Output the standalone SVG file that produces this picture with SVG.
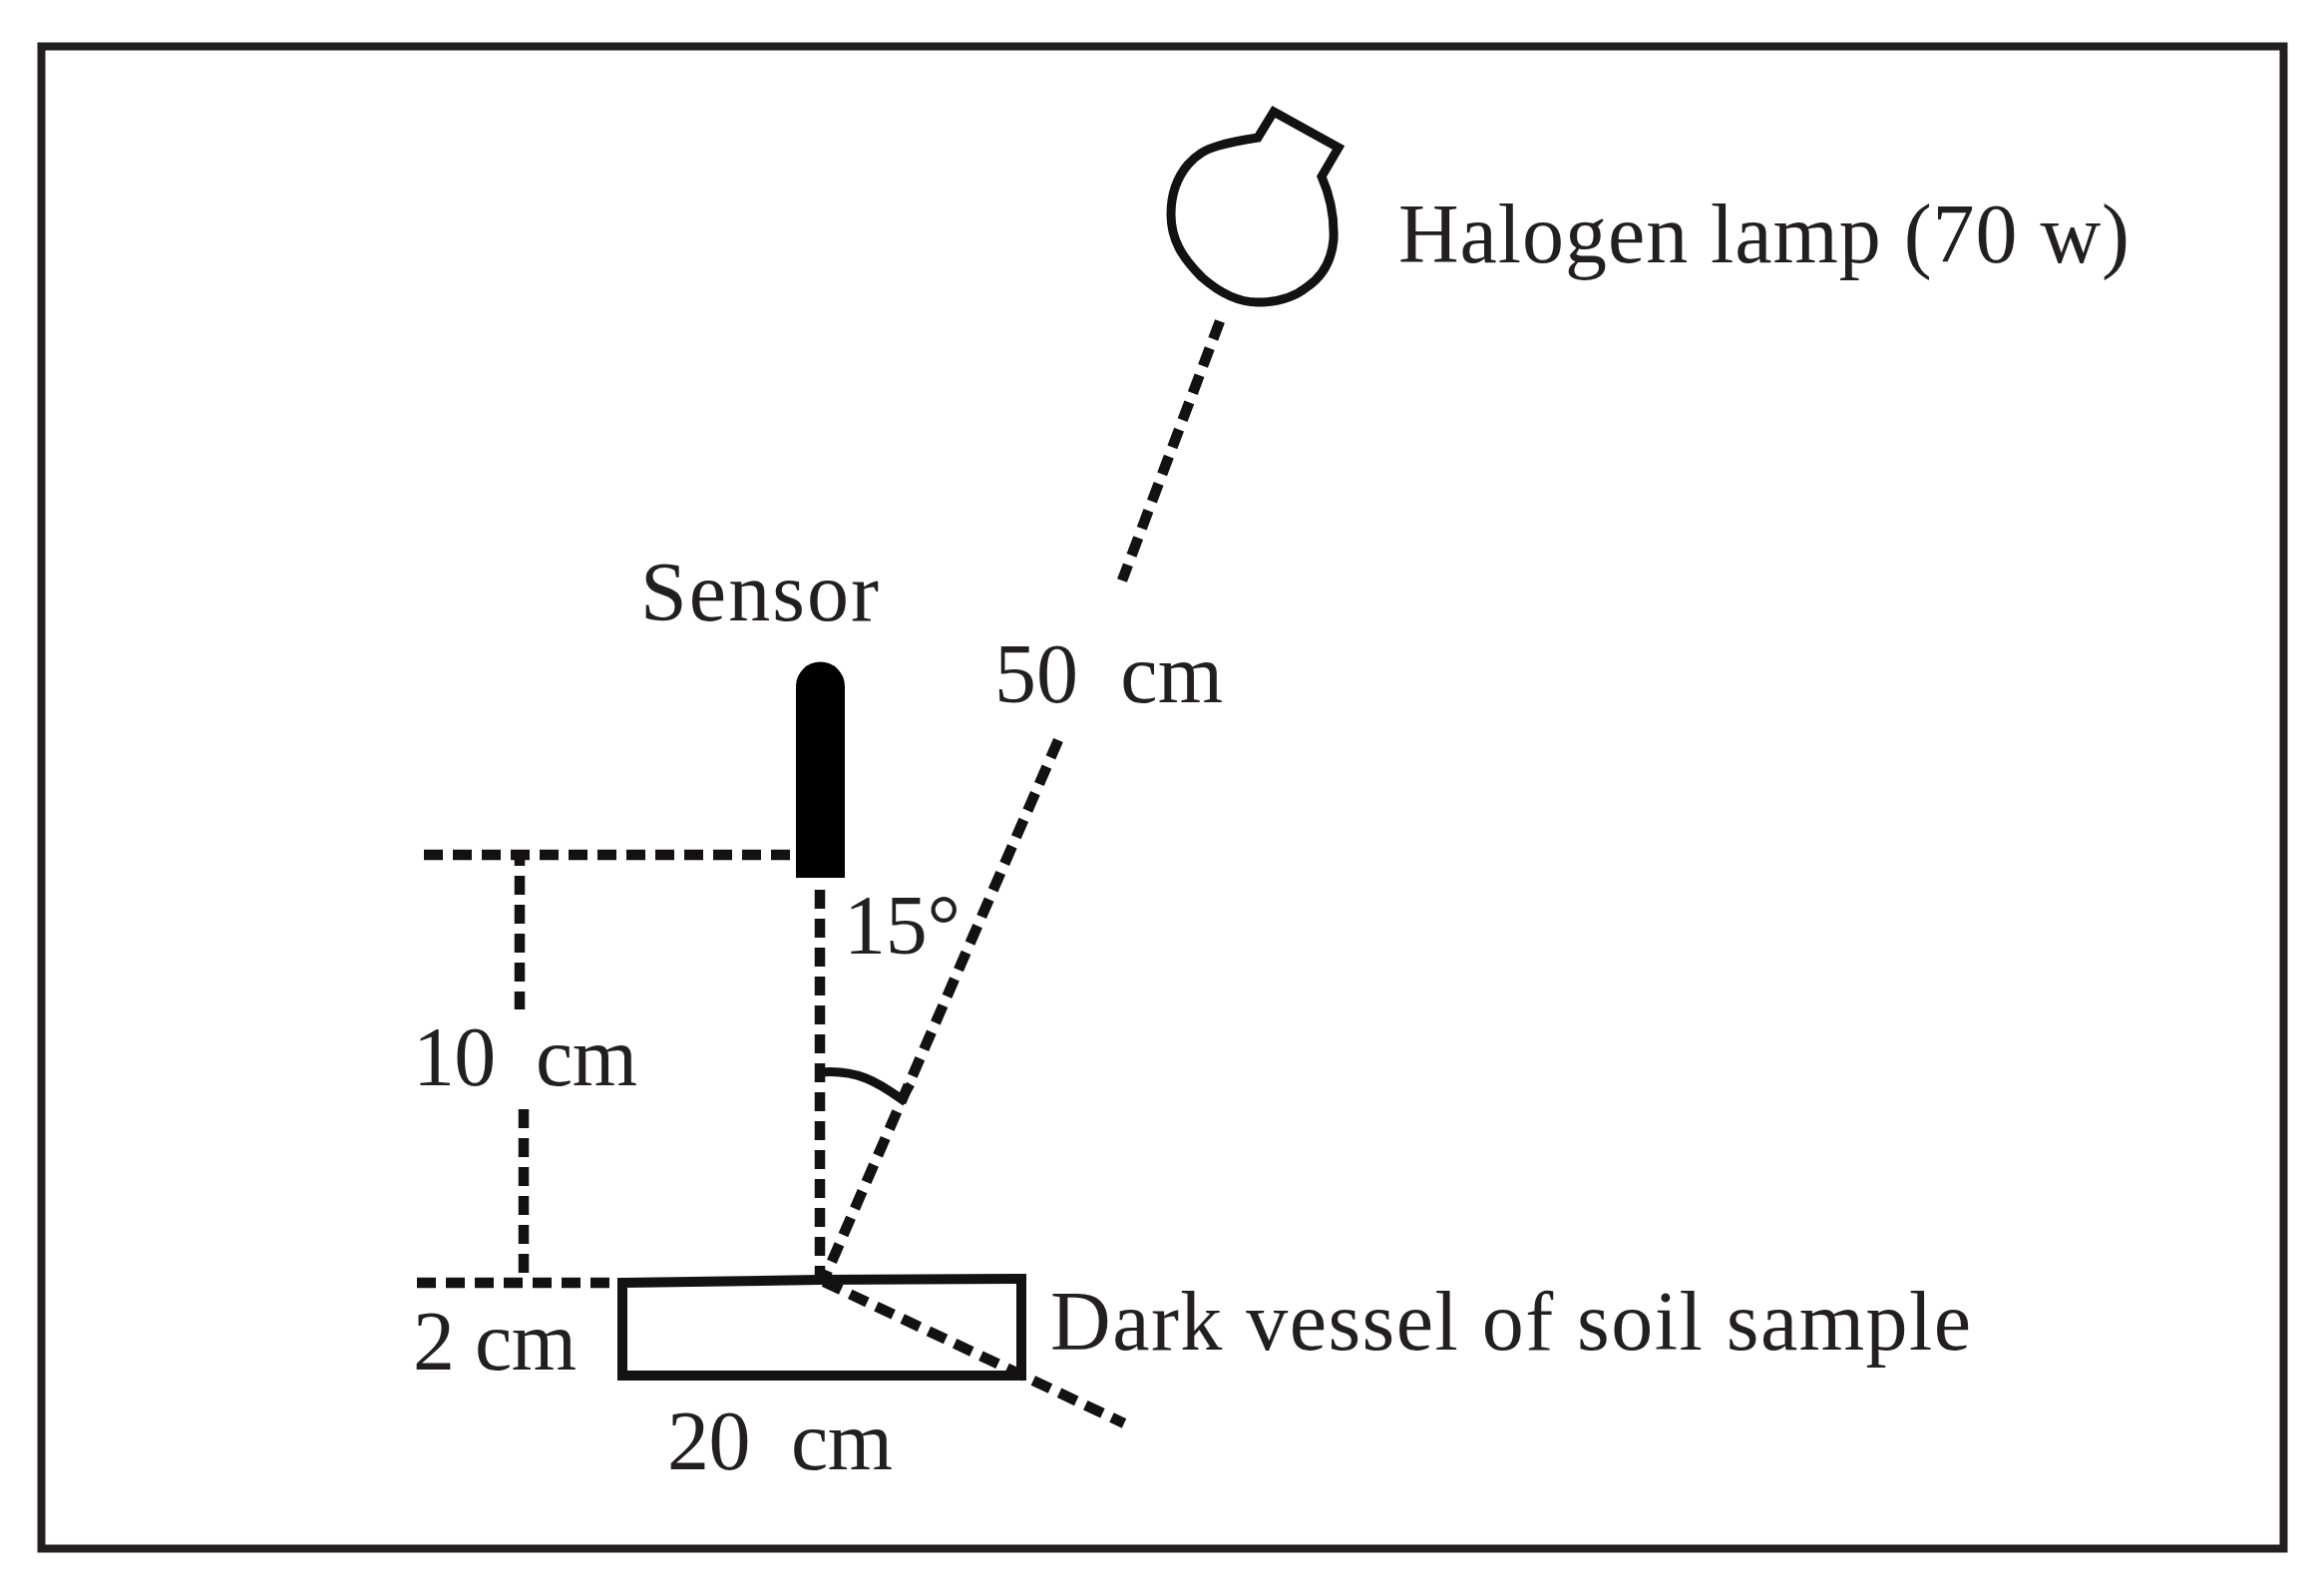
<svg xmlns="http://www.w3.org/2000/svg" width="2330" height="1591" viewBox="0 0 2330 1591">
<style>
text{font-family:"Liberation Serif","Times New Roman",serif;font-size:84px;fill:#231f20}
.d{fill:none;stroke:#141112;stroke-width:10.500;stroke-dasharray:19 10}
.o{fill:none;stroke:#141112;stroke-linejoin:miter}
</style>
<rect width="2330" height="1591" fill="#fff"/>
<rect id="frame" x="41.500" y="46.500" width="2248" height="1506" fill="none" stroke="#231f20" stroke-width="8"/>
<g id="connectors">
<path class="d" d="M425,857H797"/>
<path class="d" stroke-dashoffset="8" d="M521,857V1012"/>
<path class="d" d="M525,1112V1278"/>
<path class="d" d="M418,1286H620"/>
<path class="d" d="M822,892V1280"/>
<path class="d" d="M1223,322L1125,582"/>
<path class="d" d="M1061,742L826,1283"/>
<path class="d" d="M826,1285L1127,1427"/>
<path class="o" stroke-width="9" d="M822,1075C860,1072 880,1085 904,1102L913,1087"/>
</g>
<g id="lamp">
<path class="o" stroke-width="9" d="M1277,112L1342,148L1325,177C1333,195 1338,215 1337,240C1335,262 1325,278 1310,288C1295,300 1278,303 1261,303C1240,303 1222,293 1205,278C1185,258 1174,240 1174,215C1174,195 1180,178 1191,165C1200,155 1208,150 1222,146C1235,142 1248,140 1261,138Z"/>
<text x="1402" y="263" textLength="733" lengthAdjust="spacing">Halogen lamp (70 w)</text>
</g>
<g id="sensor">
<path fill="#000" d="M798,880V688A24.500,24.500 0 0 1 847,688V880Z"/>
<text x="642" y="622" textLength="239" lengthAdjust="spacing">Sensor</text>
</g>
<g id="vessel">
<path class="o" stroke-width="10" d="M624,1286L822,1283L1024,1282V1379H624Z"/>
<text x="1053" y="1353" textLength="923" lengthAdjust="spacing">Dark vessel of soil sample</text>
</g>
<g id="labels">
<text x="997" y="704" textLength="229" lengthAdjust="spacing" xml:space="preserve">50  cm</text>
<text x="846" y="956" textLength="117" lengthAdjust="spacing">15°</text>
<text x="414" y="1088" textLength="225" lengthAdjust="spacing" xml:space="preserve">10  cm</text>
<text x="414" y="1373" textLength="164" lengthAdjust="spacing">2 cm</text>
<text x="669" y="1473" textLength="226" lengthAdjust="spacing" xml:space="preserve">20  cm</text>
</g>
</svg>
